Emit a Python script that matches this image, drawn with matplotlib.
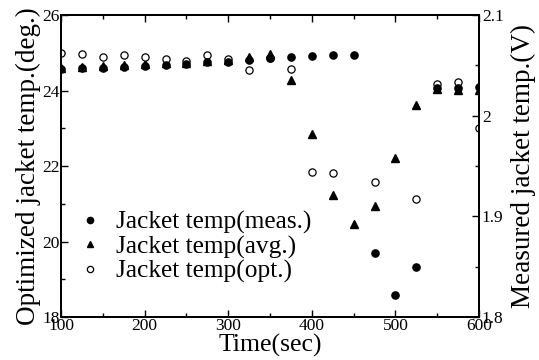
import numpy as np
import matplotlib
matplotlib.use("Agg")
import matplotlib.pyplot as plt
from matplotlib.ticker import MultipleLocator, FuncFormatter
from matplotlib.lines import Line2D

plt.rcParams['font.family'] = ['Liberation Serif', 'DejaVu Serif']

# time (sec)
t = [100, 125, 150, 175, 200, 225, 250, 275, 300, 325, 350,
     375, 400, 425, 450, 475, 500, 525, 550, 575, 600]

# measured jacket temp (V), right axis
meas = [2.046, 2.047, 2.0475, 2.0486, 2.0494, 2.0505, 2.0513, 2.0531, 2.0535, 2.0554, 2.0569,
        2.058, 2.0591, 2.0603, 2.0603, 1.8634, 1.8218, 1.8495, 2.027, 2.0273, 2.028]

# averaged jacket temp (deg.), left axis
avg = [24.60, 24.62, 24.65, 24.68, 24.70, 24.72, 24.74, 24.79, 24.80, 24.90, 24.96,
       24.28, 22.84, 21.23, 20.46, 20.94, 22.20, 23.61, 24.05, 24.02, 24.01]

# optimized jacket temp (deg.), left axis (no point at 450, 500)
opt = [25.00, 24.98, 24.88, 24.94, 24.90, 24.84, 24.78, 24.94, 24.83, 24.55, 24.85,
       24.56, 21.83, 21.82, None, 21.58, None, 21.13, 24.17, 24.23, 23.02]

labels = ['Jacket temp(meas.)', 'Jacket temp(avg.)', 'Jacket temp(opt.)']

fig = plt.figure(figsize=(5.39, 3.6), dpi=100)
ax = fig.add_axes([0.1132, 0.1194, 0.7755, 0.8389])
ax2 = ax.twinx()

ms = 5.2
to = [x for x, v in zip(t, opt) if v is not None]
vo = [v for v in opt if v is not None]
ax2.plot(t, meas, 'o', color='black', ms=ms, zorder=3)
ax.plot(t, avg, '^', color='black', ms=ms, zorder=3)
ax.plot(to, vo, 'o', mfc='white', mec='black', mew=0.9, ms=ms, zorder=4)

ax.set_xlim(100, 600)
ax.set_ylim(18, 26)
ax2.set_ylim(1.8, 2.1)

ax.xaxis.set_major_locator(MultipleLocator(100))
ax.xaxis.set_minor_locator(MultipleLocator(50))
ax.yaxis.set_major_locator(MultipleLocator(2))
ax.yaxis.set_minor_locator(MultipleLocator(1))
ax2.yaxis.set_major_locator(MultipleLocator(0.1))
ax2.yaxis.set_minor_locator(MultipleLocator(0.05))
ax2.yaxis.set_major_formatter(FuncFormatter(lambda v, p: '%g' % round(v, 2)))

ax.tick_params(axis='both', which='both', direction='in', top=True, right=False,
               labelsize=12.5, pad=1)
ax.tick_params(which='major', length=5, width=1)
ax.tick_params(which='minor', length=3, width=1)
ax2.tick_params(axis='y', which='both', direction='in', labelsize=12.5, pad=2)
ax2.tick_params(which='major', length=5, width=1)
ax2.tick_params(which='minor', length=3, width=1)

for a in (ax, ax2):
    for s in a.spines.values():
        s.set_linewidth(1.4)

ax.set_xlabel('Time(sec)', fontsize=18.5, labelpad=0)
ax.set_ylabel('Optimized jacket temp.(deg.)', fontsize=19.5, labelpad=1)
ax2.set_ylabel('Measured jacket temp.(V)', fontsize=19.5, labelpad=5)

handles = [
    Line2D([], [], ls='none', marker='o', color='black', ms=4.5),
    Line2D([], [], ls='none', marker='^', color='black', ms=4.5),
    Line2D([], [], ls='none', marker='o', mfc='white', mec='black', mew=0.9, ms=4.5),
]
ax.legend(handles, labels, loc='lower left', bbox_to_anchor=(0.014, 0.07),
          frameon=False, fontsize=18.3, handlelength=0.8, handletextpad=0.63,
          labelspacing=0.05, borderpad=0)

fig.savefig('out.png', dpi=100)
